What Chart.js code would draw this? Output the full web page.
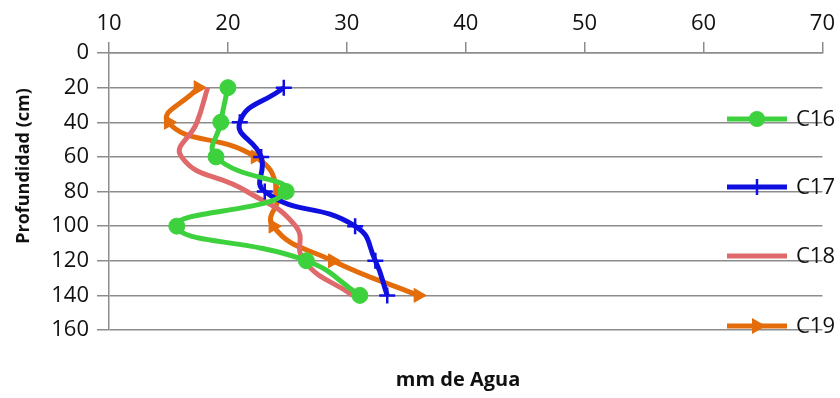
<!DOCTYPE html>
<html lang="es">
<head>
    <meta charset="UTF-8">
    <title>Profundidad vs mm de Agua</title>
    <style>
        body { margin: 0; background: #fff; }
        .chart-box { width: 840px; height: 398px; position: relative; }
    </style>
    <script src="https://cdn.jsdelivr.net/npm/chart.js"></script>
</head>
<body>
    <div class="chart-box">
        <canvas id="aguaChart"></canvas>
    </div>

    <script>
        // profundidades (cm) y lamina de agua (mm) por serie
        const depths = [20, 40, 60, 80, 100, 120, 140];
        const c16 = [20.0, 19.4, 19.0, 24.9, 15.7, 26.6, 31.1];
        const c17 = [24.7, 21.0, 22.8, 23.1, 30.7, 32.4, 33.4];
        const c18 = [18.3, 17.4, 16.1, 21.6, 25.7, 26.4, 30.5];
        const c19 = [17.5, 15.0, 22.3, 24.2, 23.8, 28.8, 36.0];
        const seriesNames = ['C16', 'C17', 'C18', 'C19'];
        const xTicks = [10, 20, 30, 40, 50, 60, 70];
        const yTicks = [0, 20, 40, 60, 80, 100, 120, 140, 160];

        const colors = ['#3dd13d', '#0f0fe0', '#e06a6b', '#e46c0a'];
        const markers = ['circle', 'cross', false, 'triangle'];
        const markerSize = [8, 8, 0, 8];

        function toPoints(values) {
            return values.map((v, i) => ({ x: v, y: depths[i] }));
        }

        const seriesValues = [c16, c17, c18, c19];
        const datasets = seriesValues.map((vals, i) => ({
            label: seriesNames[i],
            data: toPoints(vals),
            showLine: true,
            borderColor: colors[i],
            backgroundColor: colors[i],
            borderWidth: 5,
            tension: 0.5,
            pointStyle: markers[i],
            pointRadius: markerSize[i],
            pointRotation: i === 3 ? 90 : 0,
            pointBorderWidth: i === 1 ? 2.5 : 1,
            pointBorderColor: colors[i],
            pointBackgroundColor: colors[i]
        }));

        const fontFamily = '"Open Sans", sans-serif';
        const gridGray = '#8c8c8c';

        // legend and axis titles drawn at the spots used in the original sheet
        const extrasPlugin = {
            id: 'extras',
            afterDraw(chart) {
                const ctx = chart.ctx;
                ctx.save();

                const rows = [119, 187, 256, 326];
                rows.forEach((y, i) => {
                    ctx.strokeStyle = colors[i];
                    ctx.lineWidth = 5;
                    ctx.beginPath();
                    ctx.moveTo(727, y);
                    ctx.lineTo(787, y);
                    ctx.stroke();

                    const cx = 757;
                    ctx.fillStyle = colors[i];
                    if (markers[i] === 'circle') {
                        ctx.beginPath();
                        ctx.arc(cx, y, 8, 0, Math.PI * 2);
                        ctx.fill();
                    } else if (markers[i] === 'cross') {
                        ctx.lineWidth = 2.5;
                        ctx.beginPath();
                        ctx.moveTo(cx, y - 8);
                        ctx.lineTo(cx, y + 8);
                        ctx.stroke();
                    } else if (markers[i] === 'triangle') {
                        ctx.beginPath();
                        ctx.moveTo(cx + 9, y);
                        ctx.lineTo(cx - 5, y - 8);
                        ctx.lineTo(cx - 5, y + 8);
                        ctx.closePath();
                        ctx.fill();
                    }

                    ctx.fillStyle = '#111';
                    ctx.font = '22px ' + fontFamily;
                    ctx.textAlign = 'left';
                    ctx.textBaseline = 'middle';
                    ctx.fillText(seriesNames[i], 796, y + 1);
                });

                ctx.fillStyle = '#111';
                ctx.font = 'bold 20px ' + fontFamily;
                ctx.textAlign = 'center';
                ctx.textBaseline = 'middle';
                ctx.fillText('mm de Agua', 458, 380);

                ctx.translate(24, 166);
                ctx.rotate(-Math.PI / 2);
                ctx.font = 'bold 18px ' + fontFamily;
                ctx.fillText('Profundidad (cm)', 0, 0);

                ctx.restore();
            }
        };

        const ctx = document.getElementById('aguaChart').getContext('2d');
        new Chart(ctx, {
            type: 'scatter',
            data: { datasets: datasets },
            plugins: [extrasPlugin],
            options: {
                responsive: true,
                maintainAspectRatio: false,
                animation: false,
                layout: { padding: { left: 0, right: 15, top: 0, bottom: 68 } },
                plugins: {
                    legend: { display: false },
                    tooltip: { enabled: false }
                },
                scales: {
                    x: {
                        position: 'top',
                        min: 10,
                        max: 70,
                        afterBuildTicks: (scale) => { scale.ticks = xTicks.map(v => ({ value: v })); },
                        afterFit: (scale) => { scale.height = 53; },
                        grid: { drawOnChartArea: false, drawTicks: true, tickLength: 11, color: gridGray, lineWidth: 1.5 },
                        border: { color: gridGray, width: 1.5 },
                        ticks: { font: { family: fontFamily, size: 22 }, color: '#111', padding: 5 }
                    },
                    y: {
                        reverse: true,
                        min: 0,
                        max: 160,
                        afterBuildTicks: (scale) => { scale.ticks = yTicks.map(v => ({ value: v })); },
                        afterFit: (scale) => { scale.width = 109; },
                        grid: { drawTicks: true, tickLength: 12, color: gridGray, lineWidth: 1.5 },
                        border: { color: gridGray, width: 1.5 },
                        ticks: { font: { family: fontFamily, size: 22 }, color: '#111', padding: 8 }
                    }
                }
            }
        });
    </script>
</body>
</html>
